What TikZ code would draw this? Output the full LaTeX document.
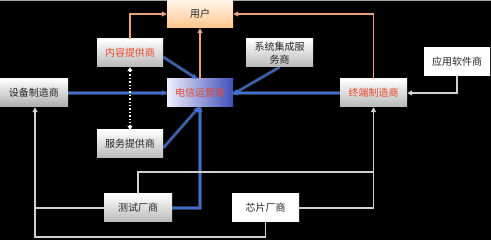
\documentclass[tikz,border=0pt]{standalone}
\usepackage{fontspec}
\newfontfamily\cjk{Noto Sans CJK SC}
\usetikzlibrary{arrows.meta}
\definecolor{orng}{HTML}{E9A27C}
\definecolor{blu}{HTML}{3F6FD6}
\definecolor{gry}{HTML}{D2D2CA}
\definecolor{redt}{HTML}{E8452C}
\definecolor{telb}{HTML}{4050B8}
\begin{document}
\begin{tikzpicture}[x=1pt,y=-1pt,
  box/.style={minimum width=66pt, minimum height=28pt, inner sep=1pt, align=center,
    font=\cjk\fontsize{10}{12}\selectfont, top color=white, bottom color=gray!55, text=black!85},
  redbox/.style={box, text=redt},
  oline/.style={draw=orng, line width=1.6pt, -{Triangle[length=5pt,width=5pt]}},
  bline/.style={draw=blu, line width=1.3pt, -{Triangle[length=5pt,width=5pt]},
    preaction={draw=blu!60, opacity=0.35, line width=3.5pt, -}},
  gline/.style={draw=gry, line width=1.6pt},
  garrow/.style={gline, -{Triangle[length=5pt,width=5pt]}},
  dline/.style={draw=white, line width=1.4pt, dotted, {Triangle[length=4pt,width=5pt]}-{Triangle[length=4pt,width=5pt]}}
]
\fill[black] (0,0) rectangle (491,240);
\useasboundingbox (0,0) rectangle (491,240);
\draw[gray!70, line width=1pt] (0,0.5) -- (491,0.5);

\node[box, top color=orange!8, bottom color=orange!45, text=black!85] (user) at (200,14) {用户};
\node[redbox] (content) at (130,53) {内容提供商};
\node[box, minimum width=68pt, bottom color=gray!65] (equip) at (34,93) {设备制造商};
\node[box, left color=blue!6, right color=telb, text=redt] (telecom) at (200,93) {电信运营商};
\node[box, minimum width=67pt, font=\cjk\fontsize{10}{12.5}\selectfont] (sysint) at (279.5,53) {系统集成服\\务商};
\node[box, top color=white, bottom color=white] (app) at (457,62) {应用软件商};
\node[redbox, minimum width=67pt] (term) at (373.5,93) {终端制造商};
\node[box] (service) at (130,144) {服务提供商};
\node[box, minimum width=68pt] (test) at (138,208) {测试厂商};
\node[box, minimum width=67pt, top color=white, bottom color=white] (chip) at (265.5,208) {芯片厂商};

% orange
\draw[oline] (content.north) |- (user.west);
\draw[oline] (term.north) |- (user.east);
\draw[oline] (telecom.north) -- (user.south);

% blue
\draw[bline] (equip.east) -- (telecom.west);
\draw[bline] (term.west) -- (telecom.east);
\draw[bline] ([yshift=-4pt]content.east) -- ([xshift=-3pt]telecom.north);
\draw[bline] (sysint.south) -- ([yshift=-1pt]telecom.east);
\draw[bline] ([yshift=-4pt]service.east) -- ([xshift=-1pt]telecom.south);
\draw[bline] (test.east) -| (telecom.south);

% dotted
\draw[dline] (content.south) -- (service.north);

% gray
\coordinate (bl) at (35,237);
\draw[garrow] (chip.south) |- (bl) -- (equip.south -| bl);
\draw[gline] (test.west) -- (test.west -| bl);
\coordinate (mid) at (373.5,172);
\draw[garrow] (test.north) |- (mid) -- (term.south);
\draw[gline] (chip.east) -| (mid);
\draw[garrow] (app.south) |- (term.east);
\end{tikzpicture}
\end{document}
